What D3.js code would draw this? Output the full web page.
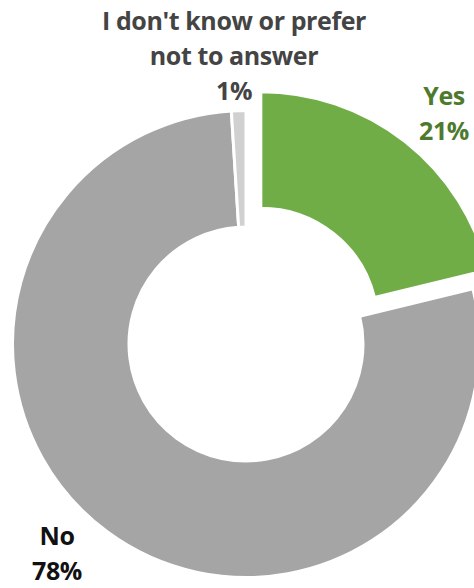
<!DOCTYPE html>
<html>
<head>
<meta charset="utf-8">
<script src="https://cdn.jsdelivr.net/npm/d3@7"></script>
<style>
  html, body { margin: 0; padding: 0; background: #fff; }
  svg { display: block; }
  text { font-family: "Open Sans", Lato, sans-serif; font-weight: bold; }
</style>
</head>
<body>
<svg id="chart" width="474" height="588"></svg>
<script>
const categories = ["Yes", "No", "I don't know or prefer not to answer"];
const values = [21.2, 77.8, 1.0];
const percentLabels = ["21%", "78%", "1%"];
const colors = ["#70AD47", "#A5A5A5", "#D0D0D0"];
const labelColors = ["#4E7A2E", "#111111", "#444444"];
const explode = [24, 0, 0];

const W = 474, H = 588;
const cx = 246, cy = 344;
const outerR = 233.5, innerR = 117;

const svg = d3.select("#chart");
const data = categories.map((c, i) => ({ cat: c, value: values[i], i }));

const pie = d3.pie().sort(null).value(d => d.value).startAngle(0).endAngle(2 * Math.PI);
const arc = d3.arc().innerRadius(innerR).outerRadius(outerR);
const arcs = pie(data);

const g = svg.append("g").attr("transform", `translate(${cx},${cy})`);

g.selectAll("path.slice")
  .data(arcs)
  .join("path")
  .attr("class", "slice")
  .attr("d", arc)
  .attr("fill", d => colors[d.data.i])
  .attr("stroke", "#fff")
  .attr("stroke-width", 3)
  .attr("transform", d => {
    const mid = (d.startAngle + d.endAngle) / 2;
    const e = explode[d.data.i];
    return `translate(${e * Math.sin(mid)},${-e * Math.cos(mid)})`;
  });

const labelSpecs = [
  { i: 0, x: 444, y0: 105, lines: ["Yes", percentLabels[0]] },
  { i: 1, x: 57, y0: 545, lines: ["No", percentLabels[1]] },
  { i: 2, x: 234, y0: 30, lines: ["I don't know or prefer", "not to answer", percentLabels[2]] }
];
const lineH = 35;
labelSpecs.forEach(s => {
  const t = svg.append("text")
    .attr("text-anchor", "middle")
    .attr("fill", labelColors[s.i])
    .attr("font-size", 25)
    .attr("letter-spacing", -0.4);
  s.lines.forEach((ln, k) => {
    t.append("tspan").attr("x", s.x).attr("y", s.y0 + k * lineH).text(ln);
  });
});
</script>
</body>
</html>
